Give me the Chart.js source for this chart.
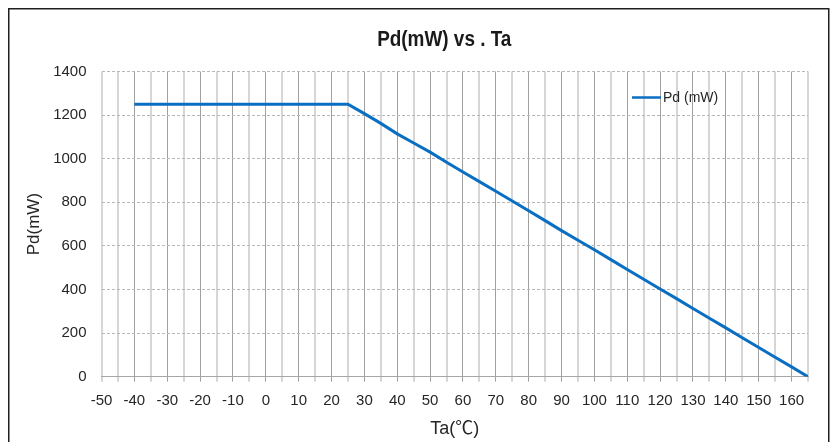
<!DOCTYPE html>
<html>
<head>
<meta charset="utf-8">
<script src="https://cdn.jsdelivr.net/npm/chart.js@4.4.1/dist/chart.umd.min.js"></script>
<style>
html,body{margin:0;padding:0;background:#fff;}
#wrap{width:840px;height:442px;position:relative;}
</style>
</head>
<body>
<div id="wrap"><canvas id="c" width="840" height="442"></canvas></div>
<script>
// ---- data ----
const chartTitle = 'Pd(mW) vs . Ta';
const xAxisTitle = 'Ta(℃)';
const yAxisTitle = 'Pd(mW)';
const seriesLabel = 'Pd (mW)';
const ta = [-40, 25, 30, 35, 40, 45, 50, 55, 60, 65, 70, 75, 80, 85, 90, 95, 100, 105, 110, 115, 120, 125, 130, 135, 140, 145, 150, 155, 160, 165];
const pd = [1250, 1250, 1207, 1162, 1114, 1072, 1030, 984, 939, 895, 851, 806, 761, 716, 670, 626, 582, 537, 492, 447, 402, 358, 313, 268, 224, 179, 134, 89, 45, 0];
const xMin = -50, xMax = 165, xStep = 5, xLabelStep = 10;
const yMin = 0, yMax = 1400, yStep = 200;

const points = ta.map((t, i) => ({x: t, y: pd[i]}));

const framePlugin = {
  id: 'frame',
  beforeDraw(chart) {
    const ctx = chart.ctx;
    ctx.save();
    ctx.fillStyle = '#ffffff';
    ctx.fillRect(0, 0, chart.width, chart.height);
    ctx.strokeStyle = '#1f1f1f';
    ctx.lineWidth = 1.5;
    ctx.strokeRect(8.75, 8.75, 820, 600);
    ctx.restore();
  }
};

// narrow bold title (Arial Narrow look) drawn horizontally condensed
const narrowTitle = {
  id: 'narrowTitle',
  afterDraw(chart, args, opts) {
    const a = chart.chartArea;
    const ctx = chart.ctx;
    ctx.save();
    ctx.translate((a.left + a.right) / 2 - 10.5, 40);
    ctx.scale(0.86, 1);
    ctx.fillStyle = '#1a1a1a';
    ctx.font = "bold 22px 'Liberation Sans', Arial, sans-serif";
    ctx.textAlign = 'center';
    ctx.textBaseline = 'middle';
    ctx.fillText(opts.text, 0, 0);
    ctx.restore();
  }
};

const innerLegend = {
  id: 'innerLegend',
  afterDatasetsDraw(chart) {
    const ds = chart.data.datasets[0];
    const a = chart.chartArea;
    const ctx = chart.ctx;
    const x0 = a.right - 176, y0 = a.top + 26;
    ctx.save();
    ctx.strokeStyle = ds.borderColor;
    ctx.lineWidth = 2.5;
    ctx.beginPath();
    ctx.moveTo(x0, y0);
    ctx.lineTo(x0 + 29, y0);
    ctx.stroke();
    ctx.fillStyle = '#262626';
    ctx.font = "14px 'Liberation Sans', Arial, sans-serif";
    ctx.textBaseline = 'middle';
    ctx.textAlign = 'left';
    ctx.fillText(ds.label, x0 + 31, y0 + 0.5);
    ctx.restore();
  }
};

new Chart(document.getElementById('c'), {
  type: 'line',
  data: {
    datasets: [{
      label: seriesLabel,
      data: points,
      borderColor: '#0a6fc2',
      borderWidth: 3,
      pointRadius: 0,
      tension: 0,
      fill: false
    }]
  },
  options: {
    responsive: false,
    animation: false,
    devicePixelRatio: 1,
    layout: {padding: {top: 71.5, left: 0, right: 32, bottom: 0}},
    plugins: {
      legend: {display: false},
      tooltip: {enabled: false},
      title: {display: false},
      narrowTitle: {text: chartTitle}
    },
    scales: {
      x: {
        type: 'linear',
        min: xMin,
        max: xMax,
        afterFit: s => { s.height = 65.3; },
        ticks: {
          stepSize: xStep,
          autoSkip: false,
          maxRotation: 0,
          padding: 10,
          color: '#262626',
          font: {family: "'Liberation Sans', Arial, sans-serif", size: 15},
          callback: v => (v % xLabelStep === 0 ? String(v) : '')
        },
        grid: {
          drawTicks: true,
          tickLength: 5,
          color: c => (c.tick && c.tick.value % xLabelStep === 0 && c.tick.value !== xMin) ? '#a0a0a0' : '#d6d6d6',
          lineWidth: c => (c.tick && c.tick.value % xLabelStep === 0 && c.tick.value !== xMin) ? 1 : 2
        },
        border: {display: true, color: '#a6a6a6', width: 1, dash: []},
        title: {
          display: true,
          text: xAxisTitle,
          color: '#262626',
          font: {family: "'Liberation Sans', 'Noto Sans CJK SC', sans-serif", size: 18},
          padding: {top: 0, bottom: 2}
        }
      },
      y: {
        type: 'linear',
        min: yMin,
        max: yMax,
        afterFit: s => { s.width = 101.5; },
        ticks: {
          stepSize: yStep,
          padding: 15,
          color: '#262626',
          font: {family: "'Liberation Sans', Arial, sans-serif", size: 15},
          callback: v => String(v)
        },
        grid: {
          drawTicks: false,
          color: c => (c.tick && c.tick.value === yMin) ? 'rgba(0,0,0,0)' : '#b8b8b8',
          lineWidth: 1
        },
        border: {display: false, dash: [3, 2]},
        title: {
          display: true,
          text: yAxisTitle,
          color: '#262626',
          font: {family: "'Liberation Sans', Arial, sans-serif", size: 17},
          padding: {top: 24, bottom: 0}
        }
      }
    }
  },
  plugins: [framePlugin, narrowTitle, innerLegend]
});
</script>
</body>
</html>
